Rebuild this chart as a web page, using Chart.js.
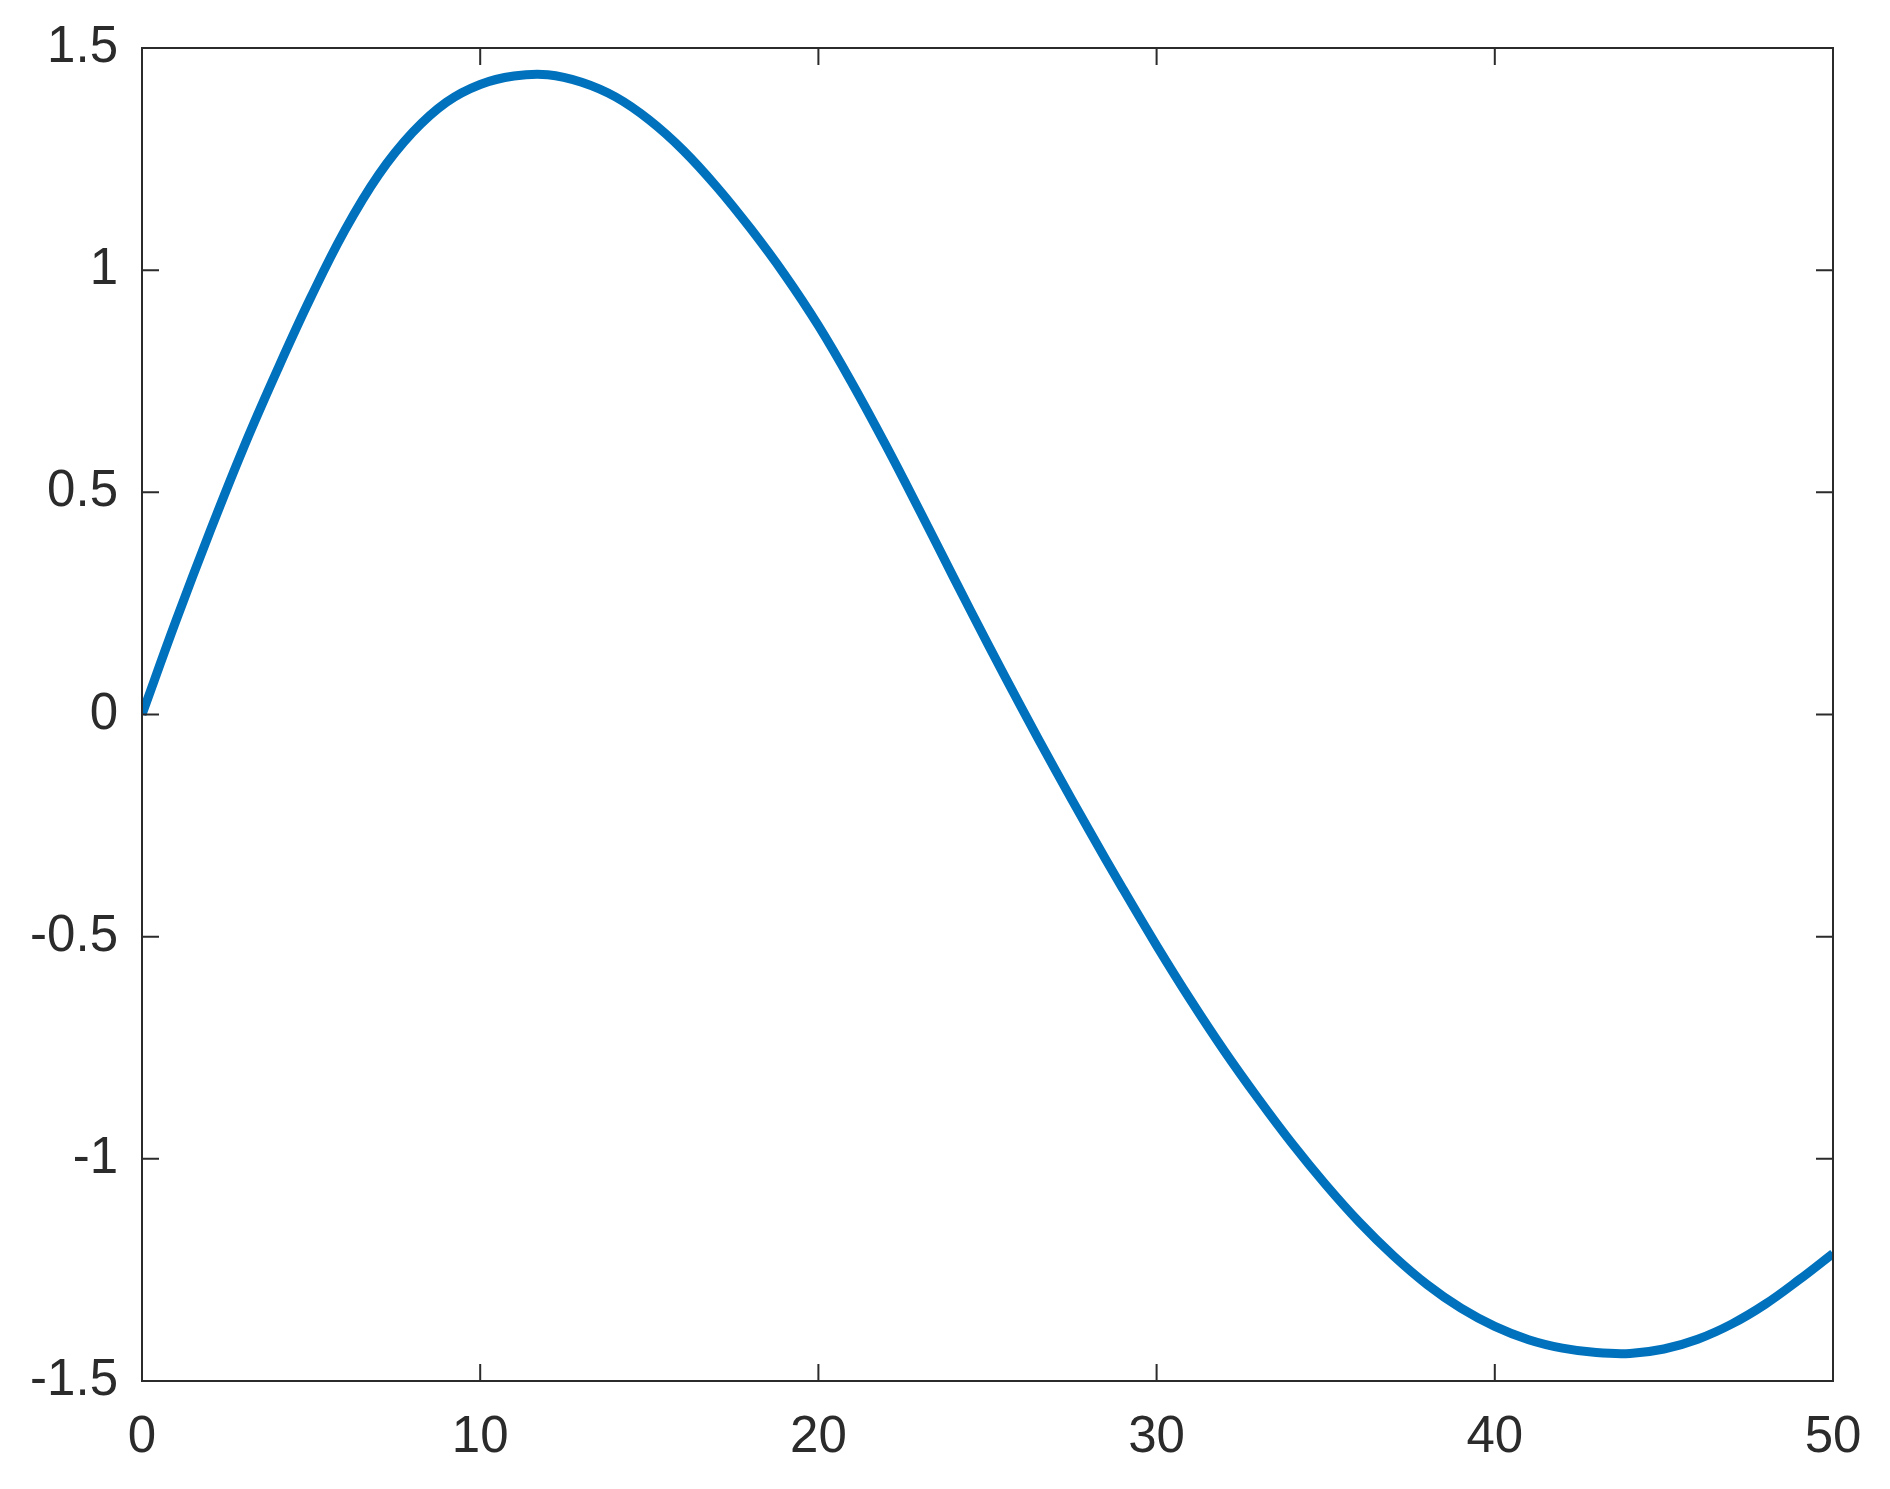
<!DOCTYPE html>
<html>
<head>
<meta charset="utf-8">
<script src="https://cdn.jsdelivr.net/npm/chart.js@4"></script>
<style>
  html, body { margin: 0; padding: 0; background: #fff; }
  #wrap { width: 1890px; height: 1489px; position: relative; }
</style>
</head>
<body>
<div id="wrap"><canvas id="myChart"></canvas></div>
<script>
// values, one per x step
const xValues = [
  0, 1, 2, 3, 4, 5, 6, 7, 8, 9,
  10, 11, 12, 13, 14, 15, 16, 17, 18, 19,
  20, 21, 22, 23, 24, 25, 26, 27, 28, 29,
  30, 31, 32, 33, 34, 35, 36, 37, 38, 39,
  40, 41, 42, 43, 44, 45, 46, 47, 48, 49, 50,
];
const yValues = [
  0, 0.21, 0.41, 0.60, 0.775, 0.94, 1.09, 1.215, 1.31, 1.378,
  1.418, 1.437, 1.44, 1.423, 1.39, 1.338, 1.27, 1.187, 1.093, 0.99,
  0.875, 0.745, 0.605, 0.458, 0.308, 0.16, 0.016, -0.124, -0.26, -0.392,
  -0.52, -0.642, -0.757, -0.864, -0.965, -1.058, -1.143, -1.218, -1.283, -1.336,
  -1.377, -1.407, -1.426, -1.436, -1.438, -1.428, -1.406, -1.372, -1.327, -1.272, -1.213,
];
const xTicks = [0, 10, 20, 30, 40, 50];
const yTicks = [-1.5, -1, -0.5, 0, 0.5, 1, 1.5];

const AXIS_COLOR = '#2b2b2b';
const TICK_LEN = 17;

const points = xValues.map((x, i) => ({x: x, y: yValues[i]}));

// box around the axes with inward ticks on all four sides
const boxPlugin = {
  id: 'boxTicks',
  afterDatasetsDraw(chart) {
    const {ctx, chartArea: a, scales} = chart;
    ctx.save();
    ctx.strokeStyle = AXIS_COLOR;
    ctx.lineWidth = 2;
    ctx.beginPath();
    xTicks.forEach((v) => {
      const px = scales.x.getPixelForValue(v);
      ctx.moveTo(px, a.bottom);
      ctx.lineTo(px, a.bottom - TICK_LEN);
      ctx.moveTo(px, a.top);
      ctx.lineTo(px, a.top + TICK_LEN);
    });
    yTicks.forEach((v) => {
      const py = scales.y.getPixelForValue(v);
      ctx.moveTo(a.left, py);
      ctx.lineTo(a.left + TICK_LEN, py);
      ctx.moveTo(a.right, py);
      ctx.lineTo(a.right - TICK_LEN, py);
    });
    ctx.stroke();
    ctx.strokeRect(a.left, a.top, a.right - a.left, a.bottom - a.top);
    ctx.restore();
  },
};

const tickFont = {family: '"Liberation Sans", Arial, sans-serif', size: 51};

// fixed axis sizes so the plot box lands where the reference has it
function fixPadding(s) {
  s.paddingTop = 0;
  s.paddingBottom = 0;
  s.paddingLeft = 0;
  s.paddingRight = 0;
}

const config = {
  type: 'line',
  data: {
    datasets: [{
      data: points,
      borderColor: '#0072BD',
      borderWidth: 9,
      pointRadius: 0,
      tension: 0.4,
      fill: false,
    }],
  },
  options: {
    responsive: true,
    maintainAspectRatio: false,
    animation: false,
    layout: {padding: {left: 0, top: 48, right: 57, bottom: 0}},
    plugins: {
      legend: {display: false},
      tooltip: {enabled: false},
    },
    scales: {
      x: {
        type: 'linear',
        min: 0,
        max: 50,
        afterBuildTicks: (s) => {
          s.ticks = xTicks.map((v) => ({value: v}));
        },
        afterFit: (s) => {
          s.height = 108;
          fixPadding(s);
        },
        grid: {display: false, drawTicks: false},
        border: {display: false},
        ticks: {
          color: AXIS_COLOR,
          font: tickFont,
          padding: 26,
          maxRotation: 0,
          callback: (v) => String(v),
        },
      },
      y: {
        min: -1.5,
        max: 1.5,
        afterBuildTicks: (s) => {
          s.ticks = yTicks.map((v) => ({value: v}));
        },
        afterFit: (s) => {
          s.width = 142;
          fixPadding(s);
        },
        grid: {display: false, drawTicks: false},
        border: {display: false},
        ticks: {
          color: AXIS_COLOR,
          font: tickFont,
          padding: 24,
          callback: (v) => String(v),
        },
      },
    },
  },
  plugins: [boxPlugin],
};

const myChart = new Chart(document.getElementById('myChart'), config);
</script>
</body>
</html>
